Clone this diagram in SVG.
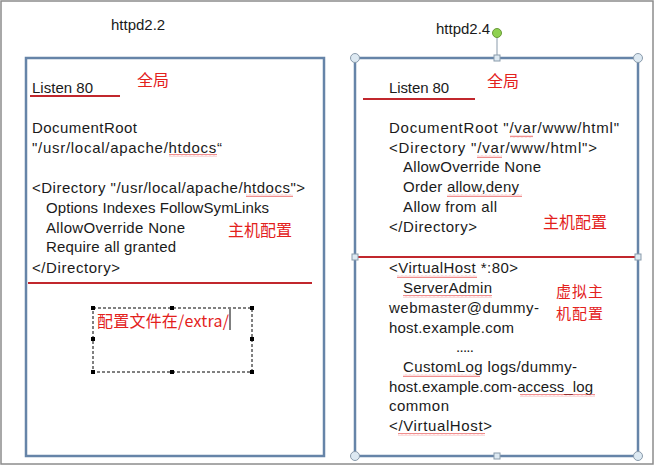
<svg xmlns="http://www.w3.org/2000/svg" width="655" height="466" viewBox="0 0 655 466">
<defs>
<style>
.t{font-family:"Liberation Sans","Noto Sans",Arial,sans-serif;font-size:15px;fill:#1a1a1a}
.h{font-family:"Liberation Sans","Noto Sans",Arial,sans-serif;font-size:15px;fill:#1a1a1a}
.r{font-family:"Noto Sans CJK SC","Liberation Sans",sans-serif;font-size:16px;fill:#e3211c}
.rs{font-family:"Noto Sans CJK SC","Liberation Sans",sans-serif;font-size:15px;fill:#e3211c}
.box{fill:#ffffff;stroke:#6684a8;stroke-width:2.5}
.rl{stroke:#c1272d;stroke-width:2.2}
.hc{fill:#dde9f2;stroke:#8a9bab;stroke-width:1}
.hs{fill:#dde9f2;stroke:#8a9bab;stroke-width:1}
.bh{fill:#000}
</style>
<pattern id="wav" width="4" height="3" patternUnits="userSpaceOnUse">
<path d="M0,2.3 L1,0.7 L2,2.3 L3,0.7 L4,2.3" fill="none" stroke="#e84040" stroke-width="0.6"/>
</pattern>
</defs>
<rect x="0" y="0" width="655" height="466" fill="#ffffff"/>
<rect x="1" y="1" width="652" height="463" fill="none" stroke="#8c8c8c" stroke-width="1.5"/>

<g id="title22"><text class="h" x="111" y="30">httpd2.2</text></g>
<g id="title24"><text class="h" x="436" y="34">httpd2.4</text></g>

<g id="box22">
<rect class="box" x="26" y="58" width="298" height="398"/>
<text class="t" x="32" y="93" textLength="61">Listen 80</text>
<text class="t" x="32" y="133" textLength="105">DocumentRoot</text>
<text class="t" x="32" y="153" textLength="190">"/usr/local/apache/htdocs“</text>
<text class="t" x="32" y="193" textLength="273">&lt;Directory "/usr/local/apache/htdocs"&gt;</text>
<text class="t" x="46" y="213" textLength="223">Options Indexes FollowSymLinks</text>
<text class="t" x="46" y="233" textLength="139">AllowOverride None</text>
<text class="t" x="46" y="252" textLength="130">Require all granted</text>
<text class="t" x="32" y="273" textLength="88">&lt;/Directory&gt;</text>
<rect x="169" y="154" width="48" height="3" fill="url(#wav)"/>
<rect x="246" y="194" width="47" height="3" fill="url(#wav)"/>
<line class="rl" x1="30" y1="96" x2="120" y2="96"/>
<line class="rl" x1="28" y1="283" x2="312" y2="283"/>
<text class="r" x="137" y="86">全局</text>
<text class="r" x="228" y="236">主机配置</text>
</g>

<g id="note">
<rect x="93" y="308" width="159" height="64" fill="none" stroke="#000" stroke-width="1" stroke-dasharray="3,2"/>
<rect class="bh" x="91" y="306" width="4" height="4"/>
<rect class="bh" x="170" y="306" width="4" height="4"/>
<rect class="bh" x="250" y="306" width="4" height="4"/>
<rect class="bh" x="91" y="337" width="4" height="4"/>
<rect class="bh" x="250" y="337" width="4" height="4"/>
<rect class="bh" x="91" y="370" width="4" height="4"/>
<rect class="bh" x="170" y="370" width="4" height="4"/>
<rect class="bh" x="250" y="370" width="4" height="4"/>
<text class="r" x="97" y="327" textLength="132">配置文件在/extra/</text>
<line x1="230" y1="309" x2="230" y2="330" stroke="#000" stroke-width="1"/>
</g>

<g id="box24">
<rect class="box" x="355" y="58" width="283" height="398"/>
<text class="t" x="389" y="93" textLength="60">Listen 80</text>
<text class="t" x="389" y="133" textLength="230">DocumentRoot "/var/www/html"</text>
<text class="t" x="389" y="153" textLength="208">&lt;Directory "/var/www/html"&gt;</text>
<text class="t" x="403" y="172" textLength="138">AllowOverride None</text>
<text class="t" x="403" y="192" textLength="116">Order allow,deny</text>
<text class="t" x="403" y="212" textLength="94">Allow from all</text>
<text class="t" x="389" y="232" textLength="88">&lt;/Directory&gt;</text>
<text class="t" x="389" y="273" textLength="129">&lt;VirtualHost *:80&gt;</text>
<text class="t" x="403" y="293" textLength="89">ServerAdmin</text>
<text class="t" x="389" y="313" textLength="150">webmaster@dummy-</text>
<text class="t" x="389" y="333" textLength="125">host.example.com</text>
<text class="t" x="456" y="352" textLength="18">.....</text>
<text class="t" x="403" y="372" textLength="174">CustomLog logs/dummy-</text>
<text class="t" x="389" y="392" textLength="204">host.example.com-access_log</text>
<text class="t" x="389" y="411" textLength="60">common</text>
<text class="t" x="389" y="431" textLength="103">&lt;/VirtualHost&gt;</text>
<rect x="510" y="135" width="23" height="3" fill="url(#wav)"/>
<rect x="477" y="155" width="25" height="3" fill="url(#wav)"/>
<rect x="447" y="194" width="75" height="3" fill="url(#wav)"/>
<rect x="397" y="275" width="80" height="3" fill="url(#wav)"/>
<rect x="403" y="295" width="89" height="3" fill="url(#wav)"/>
<rect x="403" y="374" width="77" height="3" fill="url(#wav)"/>
<rect x="520" y="394" width="75" height="3" fill="url(#wav)"/>
<rect x="398" y="433" width="87" height="3" fill="url(#wav)"/>
<line class="rl" x1="363" y1="99" x2="475" y2="99"/>
<line class="rl" x1="358" y1="257" x2="636" y2="257"/>
<text class="r" x="487" y="87">全局</text>
<text class="r" x="543" y="228">主机配置</text>
<text class="rs" x="556" y="297" textLength="47">虚拟主</text>
<text class="rs" x="556" y="319" textLength="47">机配置</text>
</g>

<g id="handles">
<line x1="497" y1="33" x2="497" y2="58" stroke="#8a9bab" stroke-width="1"/>
<circle cx="497" cy="33" r="4.5" fill="#8fd14f" stroke="#6a9a3a" stroke-width="1"/>
<circle class="hc" cx="355" cy="58" r="4.5"/>
<circle class="hc" cx="638" cy="58" r="4.5"/>
<circle class="hc" cx="355" cy="456" r="4.5"/>
<circle class="hc" cx="638" cy="456" r="4.5"/>
<rect class="hs" x="494" y="55" width="6" height="6"/>
<rect class="hs" x="494" y="453" width="6" height="6"/>
<rect class="hs" x="352" y="254" width="6" height="6"/>
<rect class="hs" x="635" y="254" width="6" height="6"/>
</g>
</svg>
